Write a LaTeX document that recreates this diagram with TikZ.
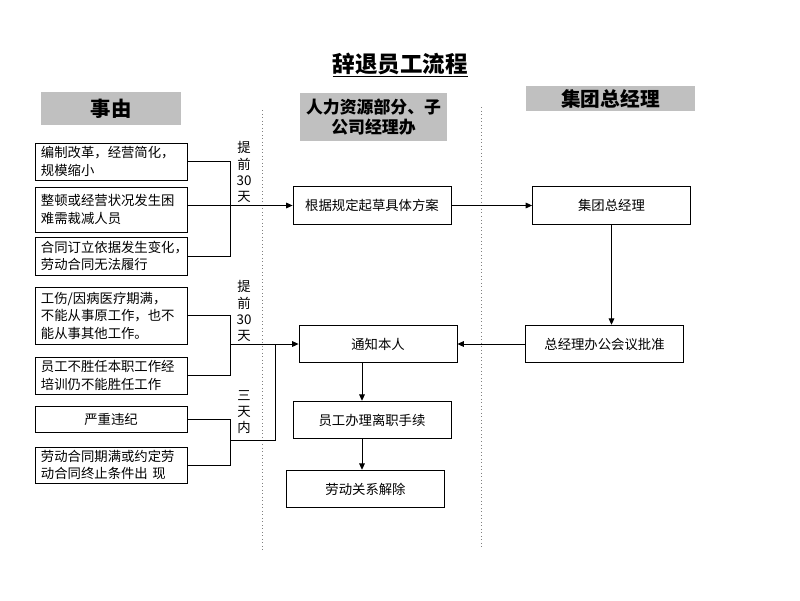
\documentclass[tikz,border=0pt]{standalone}
\usepackage{fontspec}
\setmainfont{Noto Sans CJK SC}
\usetikzlibrary{arrows.meta}
\definecolor{headgray}{RGB}{192,192,192}
\begin{document}
\begin{tikzpicture}[x=0.025cm,y=-0.025cm,line width=0.6pt,
        box/.style={draw,rectangle,inner sep=0pt,font=\fontsize{9.5pt}{12.5pt}\selectfont},
        cause/.style={box,minimum width=3.8cm,text width=3.5cm,align=left},
        step box/.style={box,minimum width=3.95cm,minimum height=0.94cm,align=center},
        head/.style={fill=headgray,inner sep=0pt,align=center,font=\bfseries},
        note/.style={align=center,inner sep=0pt,font=\fontsize{9.5pt}{11.5pt}\selectfont},
        arr/.style={-{Triangle[length=4.5pt,width=4pt]}}]
        \useasboundingbox (0,0) rectangle (800,600);

        \node[font=\fontsize{16pt}{19pt}\bfseries] at (400, 65) (title) {\underline{辞退员工流程}};

        \node[head,minimum width=3.5cm,minimum height=0.825cm,font=\fontsize{14.5pt}{16pt}\bfseries] at (111, 108.5) (hcause) {事由};
        \node[head,minimum width=3.675cm,minimum height=1.2cm,font=\fontsize{12pt}{14pt}\bfseries] at (373.5, 117) (hhr) {人力资源部分、子\\公司经理办};
        \node[head,minimum width=4.225cm,minimum height=0.625cm,font=\fontsize{14pt}{16pt}\bfseries] at (610.5, 98.5) (hgm) {集团总经理};

        \draw[gray,dotted,line width=0.5pt] (262, 110) -- (262, 550);
        \draw[gray,dotted,line width=0.5pt] (481, 107) -- (481, 548);

        \node[cause,minimum height=0.925cm] at (111, 161.5) (b1) {编制改革，经营简化，\\规模缩小};
        \node[cause,minimum height=1.125cm] at (111, 209.5) (b2) {整顿或经营状况发生困\\难需裁减人员\\[3pt]};
        \node[cause,minimum height=0.95cm] at (111, 256) (b3) {合同订立依据发生变化，\\劳动合同无法履行};
        \node[cause,minimum height=1.425cm] at (111, 315.5) (b4) {工伤/因病医疗期满，\\不能从事原工作，也不\\能从事其他工作。};
        \node[cause,minimum height=0.925cm] at (111, 375.5) (b5) {员工不胜任本职工作经\\培训仍不能胜任工作};
        \node[box,minimum width=3.8cm,minimum height=0.65cm] at (111, 419) (b6) {严重违纪};
        \node[cause,minimum height=0.9cm] at (111, 465) (b7) {劳动合同期满或约定劳\\动合同终止条件出~现};

        \node[step box] at (372, 205.5) (draft) {根据规定起草具体方案};
        \node[step box] at (611.5, 205.5) (gm) {集团总经理};
        \node[step box] at (378, 344) (notify) {通知本人};
        \node[step box] at (604.5, 344) (meeting) {总经理办公会议批准};
        \node[step box] at (372, 420) (proc) {员工办理离职手续};
        \node[step box] at (365.5, 489) (rel) {劳动关系解除};

        \node[note] at (244, 172) (n1) {提\\前\\30\\天};
        \node[note] at (244, 311) (n2) {提\\前\\30\\天};
        \node[note] at (244, 412) (n3) {三\\天\\内};

        \coordinate (jA) at (230, 0);
        \coordinate (jB) at (275, 0);
        \coordinate (jC) at (230, 440);

        \draw (b1.east) -- (b1.east -| jA) -- (b3.east -| jA) -- (b3.east);
        \draw[arr] (b2.east |- draft) -- (draft.west);
        \draw (b4.east) -- (b4.east -| jA) -- (b5.east -| jA) -- (b5.east);
        \draw[arr] (jA |- notify) -- (notify.west);
        \draw (b6.east) -- (b6.east -| jA) -- (b7.east -| jA) -- (b7.east);
        \draw (jC) -- (jC -| jB) -- (jB |- notify);

        \draw[arr] (draft.east) -- (gm.west);
        \draw[arr] (gm.south) -- (gm.south |- meeting.north);
        \draw[arr] (meeting.west) -- (notify.east);
        \draw[arr] ([xshift=-0.4cm]notify.south) -- ([xshift=-0.4cm]notify.south |- proc.north);
        \draw[arr] ([xshift=-0.25cm]proc.south) -- ([xshift=-0.25cm]proc.south |- rel.north);
    \end{tikzpicture}
\end{document}
